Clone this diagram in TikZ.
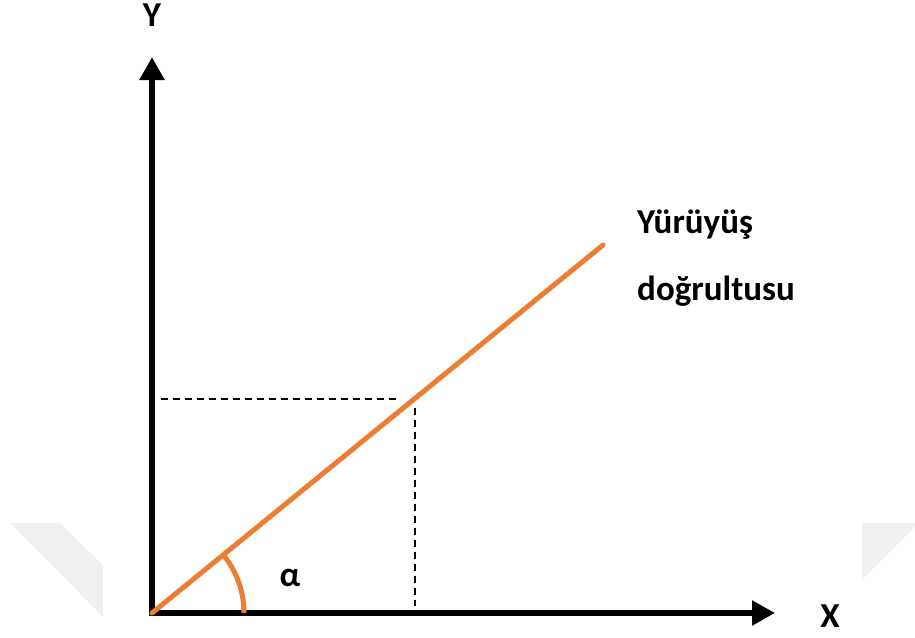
\documentclass[tikz,border=0pt]{standalone}
\usepackage{fontspec}
\setmainfont{Carlito}
\usetikzlibrary{arrows.meta}
\definecolor{lineorange}{HTML}{ED7D31}
\definecolor{wmgray}{HTML}{F0F0F0}
\tikzset{
  axis/.style={line width=5.5pt,-{Triangle[length=23pt,width=24pt]}},
  walkline/.style={line width=5pt,draw=lineorange},
  guide/.style={line width=1.4pt,dash pattern=on 7pt off 5pt},
  lbl/.style={inner sep=0pt,font=\fontsize{35}{40}\selectfont\bfseries},
  mark/.style={fill=wmgray,draw=none}
}
\begin{document}
\begin{tikzpicture}[x=1pt,y=-1pt]
\useasboundingbox (0,0) rectangle (915,637);
% faint watermark shapes
\fill[wmgray] (10,523) -- (60,523) -- (103,565) -- (103,617) -- cycle;
\fill[wmgray] (862,523) -- (915,523) -- (915,527) -- (862,580) -- cycle;
% coordinates
\coordinate (O) at (152,613);
\coordinate (Ytip) at (152,57);
\coordinate (Xtip) at (775,613);
\coordinate (Xstart) at (149.25,613);
\coordinate (E) at (603,245);
\coordinate (P) at (415,399);
\coordinate (Pl) at (161,399);
\coordinate (Pa) at (400,399);
\coordinate (Pb) at (415,408);
\coordinate (Pf) at (415,606);
% dashed guides
\draw[guide] (Pl) -- (Pa);
\draw[guide] (Pb) -- (Pf);
% axes
\draw[axis] (O) ++(0,2.75) -- (Ytip);
\draw[axis] (Xstart) -- (Xtip);
% walking direction
\draw[walkline,line cap=round] (O) -- (E);
% angle arc
\draw[walkline] (O) ++(92,0) arc[start angle=0,end angle=-39.1,radius=92];
% labels
\node[lbl,anchor=base] (ylab) at (152,27) {Y};
\node[lbl,anchor=base] (xlab) at (830,627) {X};
\node[lbl,anchor=base] (alab) at (290,586) {α};
\node[lbl,anchor=base west] (t1) at (637,233) {Yürüyüş};
\node[lbl,anchor=base west] (t2) at (637,300) {doğrultusu};
\end{tikzpicture}
\end{document}
